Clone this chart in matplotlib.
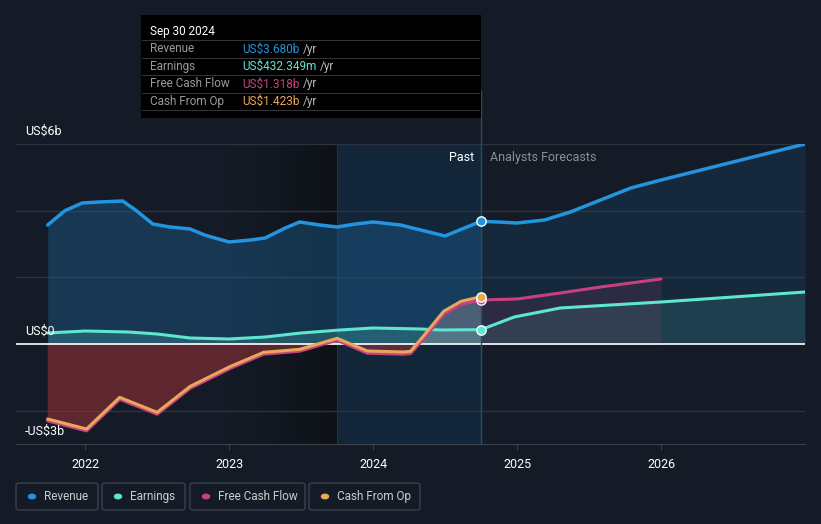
import numpy as np
import matplotlib.pyplot as plt
from matplotlib.patches import Rectangle, FancyBboxPatch
from matplotlib.colors import LinearSegmentedColormap

plt.rcParams['font.family'] = ['Roboto', 'DejaVu Sans']

# data (US$ billions, x in decimal years)
rev_x = [2021.74, 2021.86, 2021.98, 2022.10, 2022.26, 2022.35, 2022.47, 2022.59, 2022.73,
         2022.83, 2023.0, 2023.15, 2023.25, 2023.39, 2023.49, 2023.63, 2023.75, 2023.88,
         2024.0, 2024.19, 2024.33, 2024.5, 2024.6, 2024.75]
rev_y = [3.57, 4.0, 4.23, 4.26, 4.29, 4.02, 3.6, 3.51, 3.45, 3.27, 3.06, 3.12, 3.18, 3.48,
         3.66, 3.57, 3.51, 3.6, 3.66, 3.57, 3.42, 3.24, 3.42, 3.68]
rev_fx = [2024.75, 2024.87, 2025.0, 2025.19, 2025.37, 2025.58, 2025.79, 2026.0, 2026.5, 2027.0]
rev_fy = [3.68, 3.66, 3.63, 3.72, 3.96, 4.32, 4.68, 4.92, 5.46, 6.0]

earn_x = [2021.74, 2022.0, 2022.3, 2022.5, 2022.73, 2023.0, 2023.25, 2023.5, 2023.77, 2024.0,
          2024.33, 2024.47, 2024.75]
earn_y = [0.33, 0.39, 0.36, 0.30, 0.18, 0.15, 0.21, 0.33, 0.42, 0.48, 0.45, 0.42, 0.43]
earn_fx = [2024.75, 2024.98, 2025.3, 2026.0, 2027.0]
earn_fy = [0.43, 0.81, 1.08, 1.26, 1.56]

cf_x = [2021.74, 2022.01, 2022.24, 2022.5, 2022.73, 2023.01, 2023.24, 2023.49, 2023.75,
        2023.96, 2024.21, 2024.26, 2024.35, 2024.49, 2024.61, 2024.75]
fcf_y = [-2.3, -2.6, -1.65, -2.1, -1.32, -0.72, -0.3, -0.21, 0.12, -0.27, -0.3, -0.28,
         0.16, 0.9, 1.2, 1.32]
cfo_y = [-2.25, -2.55, -1.6, -2.05, -1.27, -0.67, -0.25, -0.16, 0.17, -0.21, -0.24, -0.22,
         0.24, 0.98, 1.28, 1.42]
fcf_fx = [2024.75, 2025.0, 2025.3, 2025.58, 2026.0]
fcf_fy = [1.32, 1.35, 1.53, 1.71, 1.95]

c_rev, c_earn, c_fcf, c_cfo = '#2394df', '#5ee6d0', '#c8417e', '#e8a85c'
bg = '#151b26'

fig = plt.figure(figsize=(8.21, 5.24), dpi=100, facecolor=bg)
ax = fig.add_axes([16/821, 1-444/524, (805-16)/821, 300/524])
ax.set_facecolor(bg)
ax.set_xlim(2021.52, 2027.0)
ax.set_ylim(-3, 6)

# dark gradient before last year, highlighted last year
grad = np.linspace(0, 1, 100).reshape(1, -1)
ax.imshow(grad, extent=[2023.0, 2023.75, -3, 6], aspect='auto',
          cmap=LinearSegmentedColormap.from_list('g', [bg, '#0e1218']), zorder=0)
ax.axvspan(2023.75, 2024.75, color='#132639', zorder=0.5, lw=0)
ax.axvline(2023.75, color='#1d3347', lw=0.8, zorder=0.6)

for v in [6, 4, 2, -2]:
    ax.axhline(v, color='#2c333e', lw=1, zorder=1)

# fills
ax.fill_between(rev_x, rev_y, 0, color='#1b5a8a', alpha=0.45, lw=0, zorder=2)
ax.fill_between(rev_fx, rev_fy, 0, color='#1b4a70', alpha=0.3, lw=0, zorder=2)
ax.fill_between(earn_x, earn_y, 0, color=c_earn, alpha=0.2, lw=0, zorder=2)
ax.fill_between(earn_fx, earn_fy, 0, color=c_earn, alpha=0.12, lw=0, zorder=2)
fcf_arr = np.array(fcf_y)
ax.fill_between(cf_x, fcf_arr, 0, where=fcf_arr < 0, interpolate=True, color='#a8333b', alpha=0.5, lw=0, zorder=2)
ax.fill_between(cf_x, fcf_arr, 0, where=fcf_arr >= 0, interpolate=True, color='#b0a0a8', alpha=0.35, lw=0, zorder=2)
ax.fill_between(fcf_fx, fcf_fy, 0, color=c_fcf, alpha=0.12, lw=0, zorder=2)

ax.axhline(0, color='white', lw=1.2, zorder=3)

# lines
kw = dict(solid_capstyle='round', solid_joinstyle='round')
ax.plot(rev_x, rev_y, color=c_rev, lw=2.5, zorder=5, **kw)
ax.plot(rev_fx, rev_fy, color=c_rev, lw=2.5, zorder=5, **kw)
ax.plot(earn_x, earn_y, color=c_earn, lw=2.2, zorder=5, **kw)
ax.plot(earn_fx, earn_fy, color=c_earn, lw=2.2, zorder=5, **kw)
ax.plot(cf_x, fcf_y, color=c_fcf, lw=2.5, zorder=6, **kw)
ax.plot(cf_x, cfo_y, color=c_cfo, lw=2.2, zorder=7, **kw)
ax.plot(fcf_fx, fcf_fy, color=c_fcf, lw=2.2, zorder=6, **kw)

# markers at last actual point
for yv, c, z in [(rev_y[-1], c_rev, 9), (earn_y[-1], c_earn, 9), (fcf_y[-1], c_fcf, 9), (cfo_y[-1], c_cfo, 10)]:
    ax.scatter([2024.75], [yv], s=45, color=c, edgecolor='white', linewidth=1, zorder=z)

ax.plot([2024.75, 2024.75], [-3, 7.6], color='#2e4a63', lw=1, zorder=8, clip_on=False)

# axes styling
for s in ['left', 'right', 'top']:
    ax.spines[s].set_visible(False)
ax.spines['bottom'].set_color('#3a414c')
ax.set_yticks([])
ax.set_xticks([2022, 2023, 2024, 2025, 2026])
ax.set_xticklabels(['2022', '2023', '2024', '2025', '2026'], color='white', fontsize=9)
ax.tick_params(axis='x', colors='#3a414c', length=4, pad=6, labelcolor='white')

for lab, yv in [('US$6b', 6), ('US$0', 0), ('-US$3b', -3)]:
    ax.text(2021.58, yv + 0.2, lab, color='white', fontsize=9, va='bottom', zorder=11)

ax.text(2024.7, 5.6, 'Past', color='white', fontsize=9, ha='right', va='center', zorder=11)
ax.text(2024.81, 5.6, 'Analysts Forecasts', color='#8a9099', fontsize=9, ha='left', va='center', zorder=11)

# tooltip box
fig.patches.append(Rectangle((141/821, 1-118/524), 340/821, 103/524, transform=fig.transFigure,
                             facecolor='black', edgecolor='none', zorder=20))
fig.text(150/821, 1-31/524, 'Sep 30 2024', color='white', fontsize=8.5, va='center', zorder=21)
rows = [('Revenue', 'US$3.680b', c_rev), ('Earnings', 'US$432.349m', c_earn),
        ('Free Cash Flow', 'US$1.318b', c_fcf), ('Cash From Op', 'US$1.423b', c_cfo)]
renderer = fig.canvas.get_renderer()
for i, (lab, val, c) in enumerate(rows):
    yy = 49 + i * 17.5
    fig.text(150/821, 1-yy/524, lab, color='#9a9a9a', fontsize=8.5, va='center', zorder=21)
    t = fig.text(242/821, 1-yy/524, val, color=c, fontsize=8.5, va='center', zorder=21)
    w = t.get_window_extent(renderer).width
    fig.text((242 + w + 4)/821, 1-yy/524, '/yr', color='#bbbbbb', fontsize=8.5, va='center', zorder=21)
    fig.lines.append(plt.Line2D([142/821, 479/821], [1-(yy-9)/524]*2, transform=fig.transFigure,
                                color='#333333', lw=0.8, zorder=21))
fig.lines.append(plt.Line2D([142/821, 479/821], [1-(49 + 4*17.5 - 9)/524]*2, transform=fig.transFigure,
                            color='#333333', lw=0.8, zorder=21))

# legend boxes
legend = [('Revenue', c_rev, 16, 98), ('Earnings', c_earn, 102, 185),
          ('Free Cash Flow', c_fcf, 190, 305), ('Cash From Op', c_cfo, 309, 420)]
for lab, c, x0, x1 in legend:
    fig.patches.append(FancyBboxPatch((x0/821, 1-510/524), (x1-x0)/821, 27/524, transform=fig.transFigure,
                                      boxstyle='round,pad=0,rounding_size=0.004', facecolor='none',
                                      edgecolor='#3a414c', lw=1))
    fig.patches.append(plt.Circle(((x0+16)/821, 1-496.5/524), 3.5/821, transform=fig.transFigure,
                                  color=c))
    fig.text((x0+28)/821, 1-496.5/524, lab, color='#cccccc', fontsize=8.5, va='center')

fig.savefig('out.png', dpi=100, facecolor=bg)
